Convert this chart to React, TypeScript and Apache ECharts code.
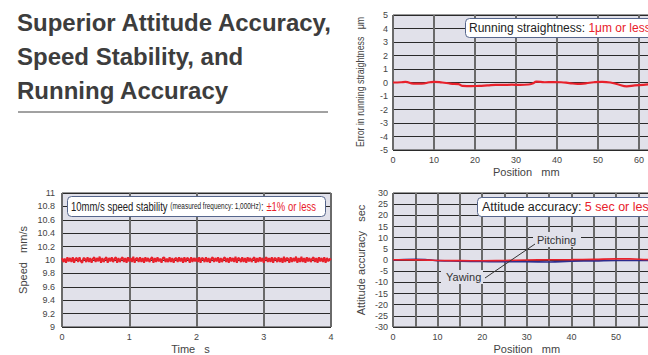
import React, { useEffect, useRef } from "react";
import * as echarts from "echarts";

const FONT = "'Liberation Sans', Arial, Helvetica, sans-serif";
const RED = "#e8212b";
const BLUE = "#2c2c8e";
const BG = "#e1e1ea";
const TXT = "#444";

// Running straightness (position mm, error μm)
const straightPos = [0, 2, 3, 5, 7, 9, 10, 12, 14, 16, 17, 19, 21, 23, 25, 27, 29, 31, 33, 34, 35, 37, 39, 41, 43, 45, 47, 49, 51, 53, 55, 57, 59, 61, 63, 65];
const straightErr = [0, 0.02, 0.04, -0.08, -0.08, 0.02, 0.05, 0, -0.08, -0.12, -0.25, -0.27, -0.25, -0.22, -0.17, -0.18, -0.16, -0.18, -0.15, -0.08, 0.06, 0.02, 0.03, 0.02, -0.04, -0.1, -0.06, 0.02, 0.05, 0, -0.15, -0.28, -0.22, -0.17, -0.13, -0.1];

// Speed stability (time s, speed mm/s) sampled every 0.02 s
const speedTimeStep = 0.02;
const speedValues = [
  10.03, 9.97, 10.02, 9.96, 10.04, 9.98, 10.03, 9.97, 10.04, 9.96, 10.02, 10.03, 9.97, 10.04, 9.98, 9.96, 10.03, 10.02, 9.97, 10.04,
  9.97, 10.03, 9.96, 10.02, 10.04, 9.97, 10.03, 9.98, 10.05, 9.96, 10.03, 9.97, 10.02, 10.04, 9.96, 10.03, 9.98, 10.04, 9.97, 10.02,
  10.04, 9.96, 10.03, 9.97, 10.02, 10.04, 9.97, 10.03, 9.96, 10.04, 9.98, 10.03, 9.97, 10.05, 9.96, 10.02, 10.03, 9.97, 10.04, 9.97,
  10.03, 9.96, 10.04, 9.98, 10.03, 9.97, 10.02, 10.04, 9.96, 10.03, 9.97, 10.04, 9.98, 10.02, 9.96, 10.03, 10.04, 9.97, 10.02, 9.97,
  10.04, 9.97, 10.03, 9.96, 10.02, 10.03, 9.97, 10.04, 9.98, 10.03, 9.96, 10.04, 9.97, 10.03, 10.02, 9.96, 10.04, 9.97, 10.03, 9.98,
  10.03, 9.97, 10.04, 9.96, 10.03, 10.02, 9.97, 10.04, 9.97, 10.03, 9.96, 10.02, 10.04, 9.97, 10.03, 9.98, 10.04, 9.96, 10.03, 9.97,
  10.02, 10.04, 9.97, 10.03, 9.96, 10.04, 9.98, 10.03, 9.97, 10.05, 9.96, 10.03, 10.02, 9.97, 10.04, 9.97, 10.03, 9.96, 10.04, 9.98,
  10.03, 9.97, 10.02, 10.04, 9.96, 10.03, 9.97, 10.04, 9.98, 10.03, 9.96, 10.02, 10.04, 9.97, 10.03, 9.97, 10.04, 9.96, 10.03, 10.02,
  9.97, 10.04, 9.97, 10.03, 9.96, 10.05, 9.97, 10.03, 10.02, 9.96, 10.04, 9.97, 10.03, 9.98, 10.05, 9.96, 10.03, 9.97, 10.05, 9.97,
  10.03, 9.96, 10.04, 9.98, 10.03, 9.97, 10.02, 10.04, 9.97, 10.03, 9.96, 10.04, 9.98, 10.03, 9.97, 10.04, 9.96, 10.03, 9.98, 10.02,
  10.0,
];

// Attitude accuracy (position mm, sec)
const attitudePos = [0, 5, 8, 10, 15, 20, 25, 30, 35, 40, 45, 50, 53, 57, 60];
const pitching = [0.1, 0.05, -0.05, -0.2, -0.3, -0.35, -0.2, 0, 0.1, 0.15, 0.3, 0.5, 0.5, 0.2, 0];
const yawing = [0, 0.35, 0.1, -0.3, -0.5, -0.7, -0.8, -0.8, -0.9, -0.5, -0.4, -0.2, -0.2, -0.2, -0.3];

const titleLines = ["Superior Attitude Accuracy,", "Speed Stability, and", "Running Accuracy"];

function zip(xs: number[], ys: number[]) {
  return xs.map((x, i) => [x, ys[i]]);
}

const axisLabel = (margin: number, showMax = true) => ({ fontSize: 9, color: TXT, margin, fontFamily: FONT, showMaxLabel: showMax });
const vSplit = { show: true, lineStyle: { color: "#6a6a6a", width: 2 } };
const hSplit = { show: true, lineStyle: { color: "#2a2a2a", width: 1 } };

export default function App() {
  const ref = useRef<HTMLDivElement>(null);
  useEffect(() => {
    if (!ref.current) return;
    const chart = echarts.init(ref.current, undefined, { renderer: "svg" });
    const gridBase = { show: true, backgroundColor: BG, borderColor: "#333", borderWidth: 1 };
    const xName = { nameLocation: "middle" as const, nameGap: 16, nameTextStyle: { fontSize: 11, color: TXT, fontFamily: FONT } };
    const noLine = { axisLine: { show: false }, axisTick: { show: false } };

    const yTitle = (x: number, y: number, text: string, sx: number) => ({
      type: "text",
      x,
      y,
      rotation: Math.PI / 2,
      scaleX: sx,
      z: 101,
      style: { text, fontSize: 11, fill: TXT, fontFamily: FONT, align: "center", verticalAlign: "middle", textAlign: "center", textVerticalAlign: "middle" },
    });

    const box = (x: number, y: number, w: number, h: number) => ({
      type: "rect",
      z: 100,
      shape: { x, y, width: w, height: h, r: 4 },
      style: { fill: "#fff", stroke: "#56668c", lineWidth: 1 },
    });

    chart.setOption({
      animation: false,
      grid: [
        { ...gridBase, left: 393, top: 15, width: 266.5, height: 135 },
        { ...gridBase, left: 62, top: 193, width: 269, height: 136 },
        { ...gridBase, left: 393, top: 193, width: 267.6, height: 136 },
      ],
      xAxis: [
        { gridIndex: 0, type: "value", min: 0, max: 65, interval: 10, ...noLine, axisLabel: axisLabel(5, false), splitLine: vSplit, name: "Position   mm", ...xName },
        { gridIndex: 1, type: "value", min: 0, max: 4, interval: 1, ...noLine, axisLabel: axisLabel(5), splitLine: vSplit, name: "Time   s", ...xName, nameTextStyle: { ...xName.nameTextStyle, padding: [0, 12, 0, 0] } },
        { gridIndex: 2, type: "value", min: 0, max: 60, interval: 10, ...noLine, axisLabel: axisLabel(5, false), splitLine: vSplit, minorTick: { show: false, splitNumber: 2 }, minorSplitLine: { show: true, lineStyle: { color: "#6a6a6a", width: 2 } }, name: "Position   mm", ...xName },
      ],
      yAxis: [
        { gridIndex: 0, type: "value", min: -5, max: 5, interval: 1, ...noLine, axisLabel: axisLabel(5), splitLine: hSplit },
        { gridIndex: 1, type: "value", min: 9, max: 11, interval: 0.2, ...noLine, axisLabel: axisLabel(7), splitLine: hSplit },
        { gridIndex: 2, type: "value", min: -30, max: 30, interval: 5, ...noLine, axisLabel: axisLabel(5), splitLine: hSplit },
      ],
      series: [
        { name: "Running straightness", type: "line", xAxisIndex: 0, yAxisIndex: 0, data: zip(straightPos, straightErr), showSymbol: false, smooth: true, lineStyle: { color: RED, width: 2.2 } },
        { name: "Speed", type: "line", xAxisIndex: 1, yAxisIndex: 1, data: speedValues.map((v, i) => [i * speedTimeStep, v]), showSymbol: false, lineStyle: { color: RED, width: 2 } },
        { name: "Yawing", type: "line", xAxisIndex: 2, yAxisIndex: 2, data: zip(attitudePos, yawing), showSymbol: false, smooth: true, lineStyle: { color: BLUE, width: 1.6 } },
        { name: "Pitching", type: "line", xAxisIndex: 2, yAxisIndex: 2, data: zip(attitudePos, pitching), showSymbol: false, smooth: true, lineStyle: { color: RED, width: 1.6 } },
      ],
      graphic: [
        ...titleLines.map((t, i) => ({
          type: "text",
          x: 17,
          y: 22 + i * 34.3,
          style: { text: t, fontSize: 24, fontWeight: "bold", fill: "#3d3d3d", fontFamily: FONT, verticalAlign: "middle", textVerticalAlign: "middle" },
        })),
        { type: "line", shape: { x1: 18, y1: 112, x2: 328, y2: 112 }, style: { stroke: "#444", lineWidth: 1 } },
        yTitle(360, 82, "Error in running straightness   μm", 0.8),
        yTitle(23, 260, "Speed   mm/s", 1),
        yTitle(361, 260, "Attitude accuracy   sec", 1),
        box(465.5, 18.5, 250, 19),
        {
          type: "text", x: 469, y: 28, z: 101,
          style: {
            text: "{a|Running straightness: }{b|1μm or less}", verticalAlign: "middle", textVerticalAlign: "middle", fontFamily: FONT,
            rich: { a: { fontSize: 12, fill: "#222", fontFamily: FONT }, b: { fontSize: 12, fill: RED, fontFamily: FONT } },
          },
        },
        box(67.5, 196.5, 258, 20),
        {
          type: "text", x: 71, y: 206.5, z: 101, scaleX: 0.76,
          style: {
            text: "{a|10mm/s speed stability }{s|(measured frequency: 1,000Hz)}{a|: }{b|±1% or less}", verticalAlign: "middle", textVerticalAlign: "middle", fontFamily: FONT,
            rich: {
              a: { fontSize: 12.5, fill: "#222", fontFamily: FONT },
              s: { fontSize: 8.5, fill: "#222", fontFamily: FONT },
              b: { fontSize: 12.5, fill: RED, fontFamily: FONT },
            },
          },
        },
        box(477.5, 197.5, 250, 19),
        {
          type: "text", x: 482, y: 207, z: 101,
          style: {
            text: "{a|Attitude accuracy: }{b|5 sec or less}", verticalAlign: "middle", textVerticalAlign: "middle", fontFamily: FONT,
            rich: { a: { fontSize: 12.5, fill: "#222", fontFamily: FONT }, b: { fontSize: 12.5, fill: RED, fontFamily: FONT } },
          },
        },
        { type: "rect", z: 100, shape: { x: 533, y: 232, width: 48, height: 15 }, style: { fill: BG } },
        { type: "text", x: 537, y: 240, z: 101, style: { text: "Pitching", fontSize: 11, fill: "#333", fontFamily: FONT, verticalAlign: "middle", textVerticalAlign: "middle" } },
        { type: "rect", z: 100, shape: { x: 441, y: 270, width: 42, height: 14 }, style: { fill: BG } },
        { type: "text", x: 446, y: 277, z: 101, style: { text: "Yawing", fontSize: 11, fill: "#333", fontFamily: FONT, verticalAlign: "middle", textVerticalAlign: "middle" } },
        { type: "line", z: 101, shape: { x1: 535, y1: 244, x2: 485, y2: 278 }, style: { stroke: "#333", lineWidth: 1 } },
      ],
    });
    return () => chart.dispose();
  }, []);

  return (
    <div style={{ position: "fixed", left: 0, top: 0, width: 648, height: 355, overflow: "hidden", background: "#fff" }}>
      <div ref={ref} style={{ width: 700, height: 355 }} />
    </div>
  );
}
